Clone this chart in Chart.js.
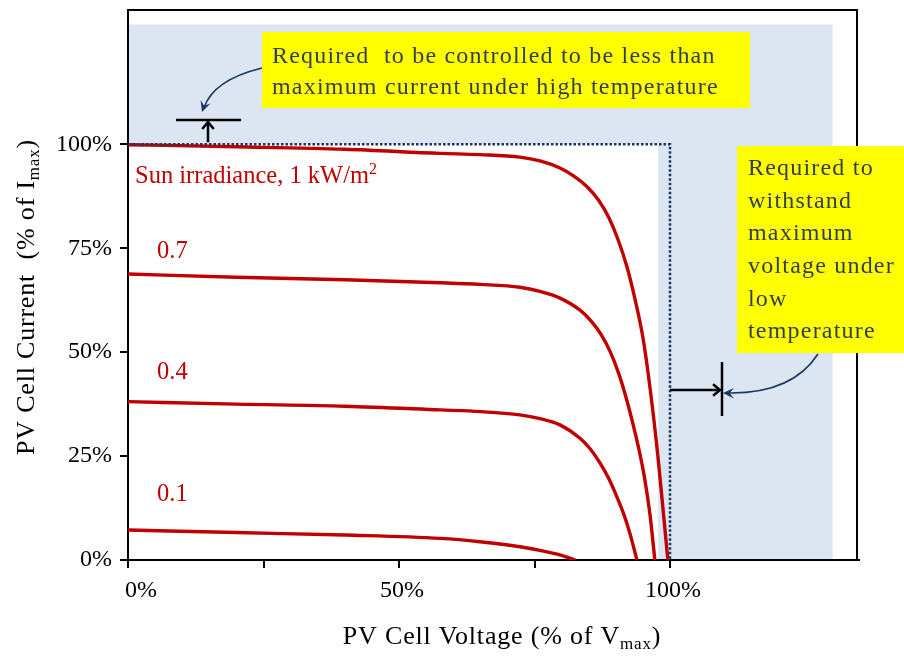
<!DOCTYPE html>
<html>
<head>
<meta charset="utf-8">
<script src="https://cdn.jsdelivr.net/npm/chart.js@4.4.1/dist/chart.umd.min.js"></script>
<style>
  html, body { margin: 0; padding: 0; background: #ffffff; }
  canvas { display: block; }
</style>
</head>
<body>
<canvas id="iv" width="904" height="656"></canvas>
<script>
// PV cell I-V curves: voltage in % of Vmax, current in % of Imax
const voltage10 = [0, 20, 40, 57.6, 65, 72.3, 76.0, 79.7, 82.2, 84.6, 86.8, 88.7, 90.4, 92.0, 93.5, 95.0, 96.4, 97.8, 99.6];
const current10 = [99.9, 99.4, 98.8, 97.8, 97.5, 96.9, 96.0, 94.3, 92.4, 89.9, 86.6, 82.4, 77.1, 70.8, 63.0, 53.5, 40.5, 24.5, 0];

const voltage07 = [0, 20, 40, 57.6, 65, 72.3, 76, 79.7, 83.4, 85.5, 87.3, 89.0, 90.5, 91.8, 93.0, 94.2, 95.3, 96.3, 97.2];
const current07 = [68.8, 68.0, 67.4, 66.7, 66.3, 65.6, 64.6, 63.0, 60.1, 57.4, 54.2, 50.0, 45.0, 39.5, 33.6, 27.0, 19.8, 11.0, 0];

const voltage04 = [0, 20, 40, 57.6, 65, 72.3, 76, 79.7, 83.4, 85.3, 87.1, 88.7, 90.2, 91.5, 92.6, 93.9];
const current04 = [38.1, 37.5, 37.0, 36.1, 35.7, 34.9, 34.0, 32.5, 29.3, 26.7, 23.3, 19.6, 15.2, 10.9, 6.4, 0];

const voltage01 = [0, 20, 40, 57.6, 64.9, 72.3, 76, 80, 82.5];
const current01 = [7.2, 6.6, 6.0, 5.2, 4.4, 3.2, 2.3, 1.1, 0];

const irradianceLabels = ['Sun irradiance, 1 kW/m', '0.7', '0.4', '0.1'];

// rated corner: 100 % voltage, 100 % current
const ratedVoltage = [0, 100, 100];
const ratedCurrent = [100, 100, 0];

// design envelope beyond the rated corner
const envelopeVoltage = [0, 130];
const envelopeCurrent = [0, 128.8];

const xTickValues = [0, 25, 50, 75, 100];
const xTickLabels = ['0%', '', '50%', '', '100%'];
const yTickValues = [0, 25, 50, 75, 100];
const yTickLabels = ['0%', '25%', '50%', '75%', '100%'];

const SERIF = '"Liberation Serif", "Times New Roman", serif';
const RED = '#c00000';
const NAVY = '#17375e';
const NOTE_TEXT = '#333f50';

const pts = (xs, ys) => xs.map((v, k) => ({ x: v, y: ys[k] }));

function curve(xs, ys) {
  return {
    data: pts(xs, ys),
    borderColor: RED,
    borderWidth: 3.4,
    pointRadius: 0,
    cubicInterpolationMode: 'monotone',
    fill: false
  };
}

// draws a run of text pieces, some of them sub/superscripts
function richText(ctx, parts, x, y, size, align, spacing) {
  ctx.letterSpacing = (spacing || 0) + 'px';
  const widths = parts.map(p => {
    ctx.font = (p.sub || p.sup ? Math.round(size * 0.65) : size) + 'px ' + SERIF;
    return ctx.measureText(p.t).width;
  });
  const total = widths.reduce((a, b) => a + b, 0);
  let cx = align === 'center' ? x - total / 2 : x;
  parts.forEach((p, k) => {
    const s = p.sub || p.sup ? Math.round(size * 0.65) : size;
    ctx.font = s + 'px ' + SERIF;
    ctx.textAlign = 'left';
    ctx.textBaseline = 'middle';
    let dy = 0;
    if (p.sub) dy = size * 0.28;
    if (p.sup) dy = -size * 0.3;
    ctx.fillText(p.t, cx, y + dy);
    cx += widths[k];
  });
  ctx.letterSpacing = '0px';
}

function arrowHeadOpen(ctx, tipX, tipY, angle, len, spread) {
  ctx.beginPath();
  ctx.moveTo(tipX + len * Math.cos(angle + spread), tipY + len * Math.sin(angle + spread));
  ctx.lineTo(tipX, tipY);
  ctx.lineTo(tipX + len * Math.cos(angle - spread), tipY + len * Math.sin(angle - spread));
  ctx.stroke();
}

function arrowHeadStealth(ctx, tipX, tipY, angle, len) {
  const a1 = angle + 0.45, a2 = angle - 0.45;
  ctx.beginPath();
  ctx.moveTo(tipX, tipY);
  ctx.lineTo(tipX + len * Math.cos(a1), tipY + len * Math.sin(a1));
  ctx.lineTo(tipX + len * 0.55 * Math.cos(angle), tipY + len * 0.55 * Math.sin(angle));
  ctx.lineTo(tipX + len * Math.cos(a2), tipY + len * Math.sin(a2));
  ctx.closePath();
  ctx.fill();
}

const backdrop = {
  id: 'backdrop',
  beforeDraw(chart) {
    const { ctx, scales: { x, y } } = chart;
    const x0 = x.getPixelForValue(envelopeVoltage[0]);
    const x1 = x.getPixelForValue(envelopeVoltage[1]);
    const y0 = y.getPixelForValue(envelopeCurrent[0]);
    const y1 = y.getPixelForValue(envelopeCurrent[1]);
    ctx.save();
    ctx.fillStyle = '#dce6f2';
    ctx.fillRect(x0, y1, x1 - x0, y0 - y1);
    // normal operating zone left white
    const xr = x.getPixelForValue(97.8);
    const yr = y.getPixelForValue(100);
    ctx.fillStyle = '#ffffff';
    ctx.fillRect(x0, yr, xr - x0, y0 - yr);
    ctx.restore();
  }
};

const decorations = {
  id: 'decorations',
  afterDraw(chart) {
    const { ctx, chartArea: ca, scales: { x, y } } = chart;
    ctx.save();

    // frame top and right, bottom axis runs slightly past the frame
    ctx.strokeStyle = '#000';
    ctx.lineWidth = 2;
    ctx.beginPath();
    ctx.moveTo(ca.left - 1, ca.top);
    ctx.lineTo(ca.right, ca.top);
    ctx.lineTo(ca.right, ca.bottom);
    ctx.moveTo(ca.right, ca.bottom);
    ctx.lineTo(ca.right + 3, ca.bottom);
    ctx.stroke();

    // x tick labels
    ctx.fillStyle = '#000';
    ctx.font = '24px ' + SERIF;
    ctx.textAlign = 'center';
    ctx.textBaseline = 'middle';
    xTickValues.forEach((v, k) => {
      if (!xTickLabels[k]) return;
      const shift = v === 0 ? 13 : 3;
      ctx.fillText(xTickLabels[k], x.getPixelForValue(v) + shift, 591);
    });

    // axis titles
    ctx.fillStyle = '#000';
    richText(ctx, [{ t: 'PV Cell Voltage (% of V' }, { t: 'max', sub: true }, { t: ')' }], 502, 637, 26, 'center', 0.8);
    ctx.save();
    ctx.translate(27, 297);
    ctx.rotate(-Math.PI / 2);
    richText(ctx, [{ t: 'PV Cell Current  (% of I' }, { t: 'max', sub: true }, { t: ')' }], 0, 0, 26, 'center', 0.8);
    ctx.restore();

    // curve labels
    ctx.fillStyle = RED;
    richText(ctx, [{ t: irradianceLabels[0] }, { t: '2', sup: true }], 135, 177, 24.5, 'left');
    richText(ctx, [{ t: irradianceLabels[1] }], 157, 252, 24.5, 'left');
    richText(ctx, [{ t: irradianceLabels[2] }], 157, 373, 24.5, 'left');
    richText(ctx, [{ t: irradianceLabels[3] }], 157, 495, 24.5, 'left');

    // current limit marker above the 100 % line
    ctx.strokeStyle = '#000';
    ctx.lineWidth = 2.5;
    ctx.beginPath();
    ctx.moveTo(176, 120); ctx.lineTo(241, 120);
    ctx.moveTo(208, y.getPixelForValue(100) - 2); ctx.lineTo(208, 123);
    ctx.stroke();
    arrowHeadOpen(ctx, 208, 122, -Math.PI / 2, 9, Math.PI * 0.78);

    // voltage limit marker right of the 100 % line
    ctx.beginPath();
    ctx.moveTo(722, 362); ctx.lineTo(722, 416);
    ctx.moveTo(x.getPixelForValue(100), 390); ctx.lineTo(719, 390);
    ctx.stroke();
    arrowHeadOpen(ctx, 720, 390, 0, 9, Math.PI * 0.78);

    // callout connectors
    ctx.strokeStyle = NAVY;
    ctx.fillStyle = NAVY;
    ctx.lineWidth = 1.6;
    ctx.beginPath();
    ctx.moveTo(262, 68);
    ctx.quadraticCurveTo(213, 80, 204, 108);
    ctx.stroke();
    arrowHeadStealth(ctx, 202, 112, Math.atan2(80 - 112, 213 - 202), 12);

    ctx.beginPath();
    ctx.moveTo(818, 354);
    ctx.quadraticCurveTo(792, 394, 728, 393);
    ctx.stroke();
    arrowHeadStealth(ctx, 723, 393, Math.atan2(394 - 393, 792 - 723), 12);

    // callout boxes
    ctx.fillStyle = '#ffff00';
    ctx.fillRect(262, 32, 488, 76);
    ctx.fillRect(737, 146, 167, 207);
    ctx.fillStyle = NOTE_TEXT;
    ctx.font = '24px ' + SERIF;
    ctx.letterSpacing = '1.2px';
    ctx.textAlign = 'left';
    ctx.textBaseline = 'middle';
    ctx.fillText('Required  to be controlled to be less than', 272, 57);
    ctx.fillText('maximum current under high temperature', 272, 88);
    const side = ['Required to', 'withstand', 'maximum', 'voltage under', 'low', 'temperature'];
    side.forEach((s, k) => ctx.fillText(s, 748, 169 + k * 32.6));
    ctx.letterSpacing = '0px';

    ctx.restore();
  }
};

new Chart(document.getElementById('iv'), {
  type: 'line',
  data: {
    datasets: [
      {
        data: pts(ratedVoltage, ratedCurrent),
        borderColor: NAVY,
        borderWidth: 2.5,
        borderDash: [2.5, 2],
        pointRadius: 0,
        tension: 0,
        fill: false
      },
      curve(voltage10, current10),
      curve(voltage07, current07),
      curve(voltage04, current04),
      curve(voltage01, current01)
    ]
  },
  options: {
    responsive: false,
    animation: false,
    devicePixelRatio: 1,
    layout: { padding: { top: 10, right: 47, left: 0, bottom: 0 } },
    plugins: { legend: { display: false }, tooltip: { enabled: false } },
    scales: {
      x: {
        type: 'linear',
        min: 0,
        max: 134.5,
        afterBuildTicks(scale) { scale.ticks = xTickValues.map(v => ({ value: v })); },
        afterFit(scale) {
          scale.height = 96;
          scale.paddingLeft = 0; scale.paddingRight = 0;
          scale.paddingTop = 0; scale.paddingBottom = 0;
        },
        ticks: { display: true, callback: () => '' },
        grid: { drawOnChartArea: false, drawTicks: true, tickLength: 8, color: '#000', lineWidth: 2 },
        border: { display: true, color: '#000', width: 2 }
      },
      y: {
        type: 'linear',
        min: 0,
        max: 132.3,
        afterBuildTicks(scale) { scale.ticks = yTickValues.map(v => ({ value: v })); },
        afterFit(scale) {
          scale.width = 128;
          scale.paddingLeft = 0; scale.paddingRight = 0;
          scale.paddingTop = 0; scale.paddingBottom = 0;
        },
        ticks: {
          padding: 8,
          color: '#000',
          font: { family: SERIF, size: 24 },
          callback: (v) => yTickLabels[yTickValues.indexOf(v)]
        },
        grid: { drawOnChartArea: false, drawTicks: true, tickLength: 8, color: '#000', lineWidth: 2 },
        border: { display: true, color: '#000', width: 2 }
      }
    }
  },
  plugins: [backdrop, decorations]
});
</script>
</body>
</html>
